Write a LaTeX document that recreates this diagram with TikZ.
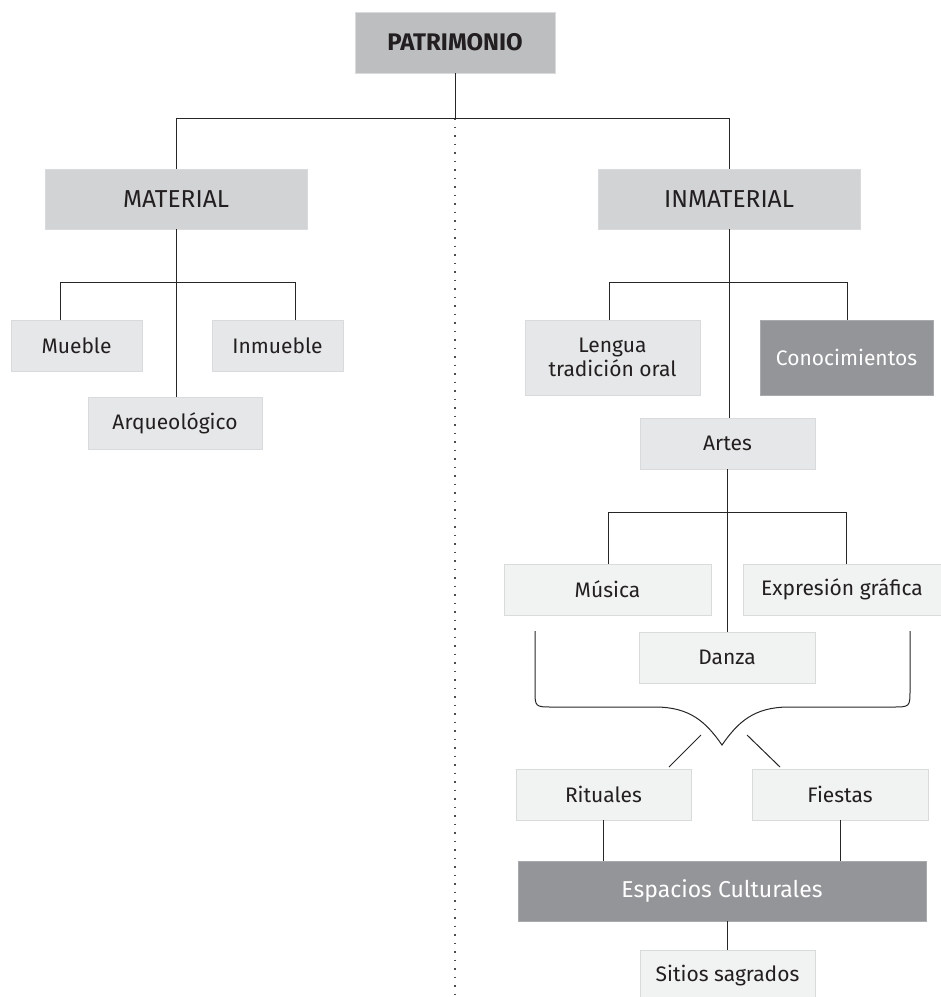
\documentclass[tikz,border=0pt]{standalone}
\usepackage{fontspec}
\setmainfont{Fira Sans}
\usepackage{tikz}
\usetikzlibrary{calc}

\definecolor{grisA}{HTML}{BCBEC0}
\definecolor{grisB}{HTML}{D1D3D4}
\definecolor{grisC}{HTML}{E6E7E8}
\definecolor{grisD}{HTML}{F1F2F2}
\definecolor{grisO}{HTML}{939598}
\definecolor{borde}{HTML}{D9DADB}
\definecolor{tinta}{HTML}{231F20}

\begin{document}
\begin{tikzpicture}[x=1pt,y=-1pt,
  caja/.style={draw=borde,line width=0.9pt,inner sep=0pt,align=center,
    text=tinta,font=\fontsize{21}{24}\selectfont},
  cajaA/.style={caja,fill=grisA,font=\fontsize{24}{27}\selectfont\bfseries},
  cajaB/.style={caja,fill=grisB,font=\fontsize{24.5}{27}\selectfont},
  cajaC/.style={caja,fill=grisC},
  cajaD/.style={caja,fill=grisD},
  cajaO/.style={caja,fill=grisO,draw=grisO!80!white,text=white},
  linea/.style={line width=1pt,draw=black!85},
  puntos/.style={line width=1.3pt,draw=black!70,dash pattern=on 1.6pt off 6.9pt}]
  \useasboundingbox (0,0) rectangle (941,997);

  \node[cajaA,minimum width=200,minimum height=61] (patr) at (455,42.5) {PATRIMONIO};
  \node[cajaB,minimum width=262,minimum height=60] (mat) at (176,199) {MATERIAL};
  \node[cajaB,minimum width=262,minimum height=60] (inmat) at (729,199) {INMATERIAL};

  \node[cajaC,minimum width=131,minimum height=51] (mueb) at (76.5,345.5) {Mueble};
  \node[cajaC,minimum width=131,minimum height=51] (inmueb) at (277.5,345.5) {Inmueble};
  \node[cajaC,minimum width=174,minimum height=52] (arq) at (175,423) {Arqueológico};

  \node[cajaC,minimum width=175,minimum height=75] (leng) at (612.5,357.5) {Lengua\\tradición oral};
  \node[cajaO,minimum width=173,minimum height=75] (conoc) at (846.5,357.5) {Conocimientos};
  \node[cajaC,minimum width=175,minimum height=51] (artes) at (727.5,443.5) {Artes};

  \node[cajaD,minimum width=207,minimum height=51] (mus) at (607.5,589.5) {Música};
  \node[cajaD,minimum width=198,minimum height=51] (expr) at (842,589.5) {Expresión gráfica};
  \node[cajaD,minimum width=176,minimum height=51] (danza) at (727,657.5) {Danza};

  \node[cajaD,minimum width=175,minimum height=51] (rit) at (603.5,794.5) {Rituales};
  \node[cajaD,minimum width=176,minimum height=51] (fiest) at (840,794.5) {Fiestas};
  \node[cajaO,minimum width=408,minimum height=60,font=\fontsize{23}{26}\selectfont] (espac) at (722,891) {Espacios Culturales};
  \node[cajaD,minimum width=175,minimum height=52] (sitios) at (727.5,976) {Sitios sagrados};

  \coordinate (ramaP) at (patr.south |- 0,118);
  \coordinate (punta) at (722,745);
  \coordinate (diagR1) at (701,735);
  \coordinate (diagR2) at (669,767);
  \coordinate (diagF1) at (747,735);
  \coordinate (diagF2) at (780,767);

  \draw[puntos] (ramaP) -- (ramaP |- 0,997);
  \draw[linea] (patr.south) -- (ramaP);
  \draw[linea] (mat.north) -- (mat.north |- ramaP) -- (inmat.north |- ramaP) -- (inmat.north);

  \draw[linea] (mat.south) -- (mat.south |- arq.north);
  \draw[linea] ([xshift=-16.5]mueb.north) -- ++(0,-37) -| ([xshift=17.5]inmueb.north);

  \draw[linea] (inmat.south) -- (inmat.south |- artes.north);
  \draw[linea] ([xshift=-3.5]leng.north) -- ++(0,-37) -| ([xshift=0.5]conoc.north);

  \draw[linea] (artes.south) -- (artes.south |- danza.north);
  \draw[linea] ([xshift=0.5]mus.north) -- ++(0,-51) -| ([xshift=4]expr.north);

  \draw[linea] (535,631) -- (535,690) .. controls (535,707) .. (553,707) -- (655,707)
    .. controls (690,707) and (706,722) .. (punta)
    .. controls (738,722) and (754,707) .. (789,707) -- (892,707)
    .. controls (910,707) .. (910,690) -- (910,631);
  \draw[linea] (diagR1) -- (diagR2);
  \draw[linea] (diagF1) -- (diagF2);

  \draw[linea] (rit.south) -- (rit.south |- espac.north);
  \draw[linea] (fiest.south) -- (fiest.south |- espac.north);
  \draw[linea] (espac.south -| sitios.north) -- (sitios.north);
\end{tikzpicture}
\end{document}
